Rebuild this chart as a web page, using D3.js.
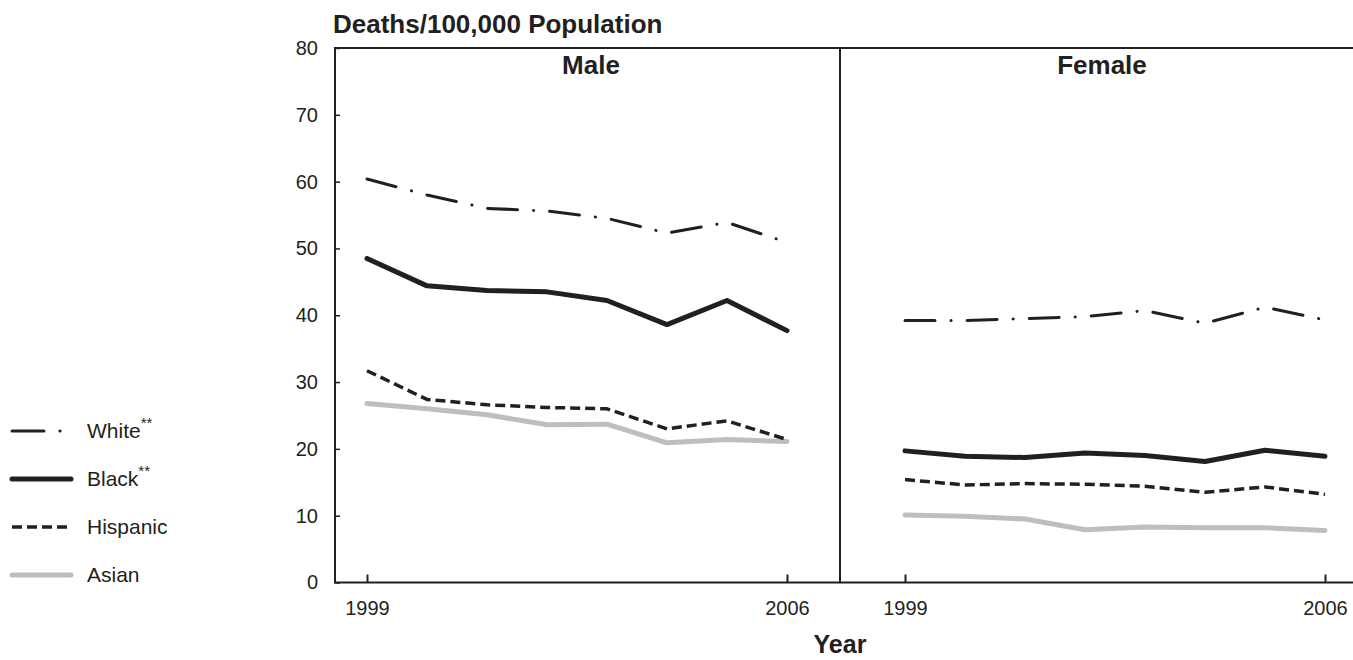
<!DOCTYPE html>
<html>
<head>
<meta charset="utf-8">
<script src="https://cdn.jsdelivr.net/npm/d3@7"></script>
<style>
  html, body { margin: 0; padding: 0; background: #fff; }
  svg { display: block; font-family: "Liberation Sans", Arial, sans-serif; }
</style>
</head>
<body>
<svg id="chart" width="1353" height="660"></svg>
<script>
// Death rates per 100,000 population, 1999-2006
const years = [1999, 2000, 2001, 2002, 2003, 2004, 2005, 2006];
const yTicks = [0, 10, 20, 30, 40, 50, 60, 70, 80];
const xTickYears = [1999, 2006];
const panels = ["Male", "Female"];
const seriesNames = ["White", "Black", "Hispanic", "Asian"];
const seriesMarks = ["**", "**", "", ""];

const maleWhite    = [60.4, 58.0, 56.0, 55.6, 54.5, 52.3, 53.9, 50.9];
const maleBlack    = [48.5, 44.4, 43.7, 43.5, 42.2, 38.6, 42.2, 37.7];
const maleHispanic = [31.7, 27.4, 26.6, 26.2, 26.0, 23.0, 24.2, 21.4];
const maleAsian    = [26.8, 26.0, 25.1, 23.6, 23.7, 20.9, 21.4, 21.1];

const femaleWhite    = [39.2, 39.2, 39.5, 39.8, 40.7, 38.8, 41.2, 39.3];
const femaleBlack    = [19.7, 18.9, 18.7, 19.4, 19.0, 18.1, 19.8, 18.9];
const femaleHispanic = [15.4, 14.6, 14.8, 14.7, 14.4, 13.5, 14.3, 13.2];
const femaleAsian    = [10.1, 9.9, 9.5, 7.9, 8.3, 8.2, 8.2, 7.8];

const svg = d3.select("#chart");
const ink = "#231f20";
const font = "'Liberation Sans', Arial, sans-serif";

const plotLeft = 335, plotRight = 1353, divider = 840;
const plotTop = 48, plotBottom = 582.5;

const y = d3.scaleLinear().domain([0, 80]).range([plotBottom, plotTop]);
const xMale = d3.scaleLinear().domain([1999, 2006]).range([367, 787]);
const xFemale = d3.scaleLinear().domain([1999, 2006]).range([905, 1325]);

// Line styles per series
const styles = {
  White:    { stroke: ink, width: 3, dash: "30,16,0.1,16", cap: "round" },
  Black:    { stroke: ink, width: 5, dash: null, cap: "round" },
  Hispanic: { stroke: ink, width: 3.5, dash: "10,5", cap: "butt" },
  Asian:    { stroke: "#bcbec0", width: 5, dash: null, cap: "round" }
};

function drawSeries(g, x, values, name) {
  const st = styles[name];
  const line = d3.line().x((d, i) => x(years[i])).y(d => y(d));
  g.append("path")
    .datum(values)
    .attr("d", line)
    .attr("fill", "none")
    .attr("stroke", st.stroke)
    .attr("stroke-width", st.width)
    .attr("stroke-linecap", st.cap)
    .attr("stroke-linejoin", "round")
    .attr("stroke-dasharray", st.dash);
}

// Lines (Asian drawn first so darker lines sit above it)
const linesG = svg.append("g");
const order = ["Asian", "Hispanic", "Black", "White"];
const maleData = { White: maleWhite, Black: maleBlack, Hispanic: maleHispanic, Asian: maleAsian };
const femaleData = { White: femaleWhite, Black: femaleBlack, Hispanic: femaleHispanic, Asian: femaleAsian };
order.forEach(n => drawSeries(linesG, xMale, maleData[n], n));
order.forEach(n => drawSeries(linesG, xFemale, femaleData[n], n));

// Y axis with inward ticks
const yAxis = d3.axisLeft(y).tickValues(yTicks).tickSizeInner(-5).tickSizeOuter(0).tickPadding(17);
const yG = svg.append("g").attr("transform", `translate(${plotLeft},0)`).call(yAxis);
yG.select(".domain").remove();
yG.selectAll(".tick line").attr("stroke", ink).attr("stroke-width", 1.5);
yG.selectAll(".tick text").attr("fill", ink).attr("font-size", 20).attr("font-family", font);

// X axes with inward ticks
[xMale, xFemale].forEach(x => {
  const xAxis = d3.axisBottom(x).tickValues(xTickYears).tickFormat(d3.format("d"))
    .tickSizeInner(-8).tickSizeOuter(0).tickPadding(18);
  const g = svg.append("g").attr("transform", `translate(0,${plotBottom})`).call(xAxis);
  g.select(".domain").remove();
  g.selectAll(".tick line").attr("stroke", ink).attr("stroke-width", 2);
  g.selectAll(".tick text").attr("fill", ink).attr("font-size", 20).attr("font-family", font);
});

// Frame: left, top, bottom, panel divider
const frame = svg.append("g").attr("stroke", ink).attr("stroke-width", 2).attr("fill", "none");
frame.append("line").attr("x1", plotLeft).attr("x2", plotLeft).attr("y1", plotTop).attr("y2", plotBottom);
frame.append("line").attr("x1", plotLeft - 1).attr("x2", plotRight).attr("y1", plotTop).attr("y2", plotTop);
frame.append("line").attr("x1", plotLeft - 1).attr("x2", plotRight).attr("y1", plotBottom).attr("y2", plotBottom);
frame.append("line").attr("x1", divider).attr("x2", divider).attr("y1", plotTop).attr("y2", plotBottom);

// Panel titles
const panelCenters = [591, 1102];
panels.forEach((p, i) => {
  svg.append("text").attr("x", panelCenters[i]).attr("y", 74)
    .attr("text-anchor", "middle").attr("font-weight", "bold").attr("font-size", 26)
    .attr("fill", ink).text(p);
});

// Axis titles
svg.append("text").attr("x", 333).attr("y", 33)
  .attr("font-weight", "bold").attr("font-size", 26).attr("fill", ink)
  .text("Deaths/100,000 Population");
svg.append("text").attr("x", divider).attr("y", 653)
  .attr("text-anchor", "middle").attr("font-weight", "bold").attr("font-size", 25)
  .attr("fill", ink).text("Year");

// Legend
const legend = svg.append("g");
const legendY = [431, 479, 527, 575];
seriesNames.forEach((n, i) => {
  const st = styles[n];
  const ly = legendY[i];
  if (n === "White") {
    legend.append("line").attr("x1", 12).attr("x2", 44).attr("y1", ly).attr("y2", ly)
      .attr("stroke", st.stroke).attr("stroke-width", st.width).attr("stroke-linecap", "round");
    legend.append("circle").attr("cx", 60).attr("cy", ly).attr("r", 1.6).attr("fill", st.stroke);
  } else {
    legend.append("line").attr("x1", 12).attr("x2", 71).attr("y1", ly).attr("y2", ly)
      .attr("stroke", st.stroke).attr("stroke-width", st.width)
      .attr("stroke-linecap", st.cap).attr("stroke-dasharray", st.dash);
  }
  const t = legend.append("text").attr("x", 87).attr("y", ly + 7)
    .attr("font-size", 21).attr("fill", ink).text(n);
  if (seriesMarks[i]) {
    t.append("tspan").attr("dy", -10).attr("font-size", 15).text(seriesMarks[i]);
  }
});
</script>
</body>
</html>
